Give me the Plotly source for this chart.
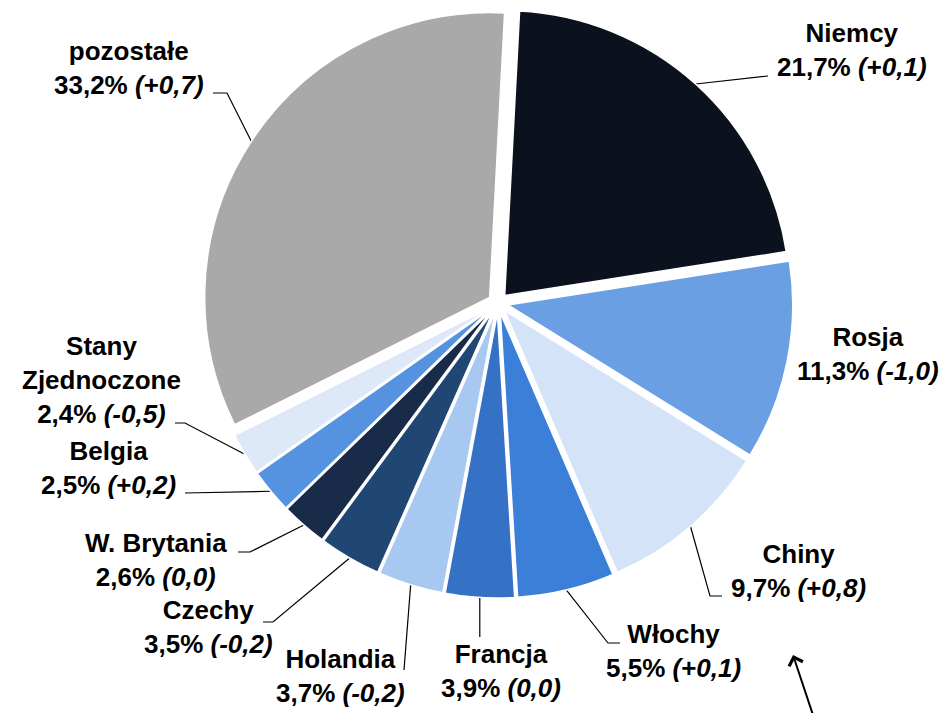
import math
import plotly.graph_objects as go

# udział w eksporcie (%) i zmiana r/r (pp)
countries = ["Niemcy", "Rosja", "Chiny", "Włochy", "Francja", "Holandia", "Czechy",
             "W. Brytania", "Belgia", "Stany<br>Zjednoczone", "pozostałe"]
shares = [21.7, 11.3, 9.7, 5.5, 3.9, 3.7, 3.5, 2.6, 2.5, 2.4, 33.2]
changes = ["+0,1", "-1,0", "+0,8", "+0,1", "0,0", "-0,2", "-0,2", "0,0", "+0,2", "-0,5", "+0,7"]
colors = ["#0c121d", "#6b9fe3", "#d4e3f8", "#3b7fd9", "#3572c6", "#a7c8f0",
          "#204674", "#182c4a", "#5592e0", "#dde9f8", "#a9a9a9"]

# --- layout (screen pixels) ---
W, H = 951, 721
OFF = 8                      # page body margin
FW, FH = W - 2 * OFF, H - 2 * OFF
cx, cy, R = 498, 303, 285
pull = 0.035
rotation = 3
box = R * (1 + pull)

# label block centres and leader-line knees (pixels)
label_xy = [(852, 50), (868, 354), (798, 571), (673, 651), (501, 671), (340, 676),
            (208, 627), (156, 560), (108, 468), (101, 380), (129, 68)]
knees = [[(762, 76), (768, 76)], None, [(710, 596), (722, 596)], [(608, 643), (620, 643)],
         [None], [(404, 670)], [(273, 622), (263, 622)], [(250, 552), (238, 552)],
         [(185, 493)], [(185, 423), (175, 423)], [(227, 93), (213, 93)]]


def fmt_change(c):
    if c.startswith("+"):
        return "<i>(</i>+<i>" + c[1:] + ")</i>"
    return "<i>(" + c + ")</i>"


def px(sx):
    return (sx - OFF) / FW


def py(sy):
    return 1 - (sy - OFF) / FH


fig = go.Figure()

fig.add_trace(go.Pie(
    values=shares, labels=countries, sort=False, direction="clockwise",
    rotation=rotation, pull=[pull] * len(shares), textinfo="none",
    marker=dict(colors=colors, line=dict(color="white", width=1.5)),
    domain=dict(x=[px(cx - box), px(cx + box)], y=[py(cy + box), py(cy - box)]),
    showlegend=False, hoverinfo="label+percent",
))

# leader lines from the mid-angle of each slice edge
total = sum(shares)
cum = 0
for i, v in enumerate(shares):
    mid = math.radians(rotation + (cum + v / 2) / total * 360)
    cum += v
    if knees[i] is None:
        continue
    ex = cx + box * math.sin(mid)
    ey = cy - box * math.cos(mid)
    pts = [(ex, ey)]
    for k in knees[i]:
        pts.append((ex, 637) if k is None else k)
    fig.add_trace(go.Scatter(
        x=[p[0] for p in pts], y=[p[1] for p in pts], mode="lines",
        line=dict(color="black", width=1.2), showlegend=False, hoverinfo="skip",
    ))

annotations = []
for name, v, c, (lx, ly) in zip(countries, shares, changes, label_xy):
    pct = f"{v:.1f}".replace(".", ",") + "%"
    annotations.append(dict(
        x=lx, y=ly, xref="x", yref="y", showarrow=False,
        text="<b>" + name + "<br>" + pct + " " + fmt_change(c) + "</b>",
        font=dict(family="Liberation Sans, Arial", size=26, color="black"),
        xanchor="center", yanchor="middle", align="center",
    ))

# strzałka w prawym dolnym rogu
annotations.append(dict(
    x=793, y=655, ax=815, ay=721, xref="x", yref="y", axref="x", ayref="y",
    text="", showarrow=True, arrowhead=4, arrowsize=1.4, arrowwidth=2, arrowcolor="black",
))

fig.update_layout(
    width=FW, height=FH,
    margin=dict(l=0, r=0, t=0, b=0),
    paper_bgcolor="white", plot_bgcolor="rgba(0,0,0,0)",
    xaxis=dict(range=[OFF, W - OFF], visible=False, domain=[0, 1], fixedrange=True),
    yaxis=dict(range=[H - OFF, OFF], visible=False, domain=[0, 1], fixedrange=True),
    annotations=annotations,
)

fig.write_html("out.html")
